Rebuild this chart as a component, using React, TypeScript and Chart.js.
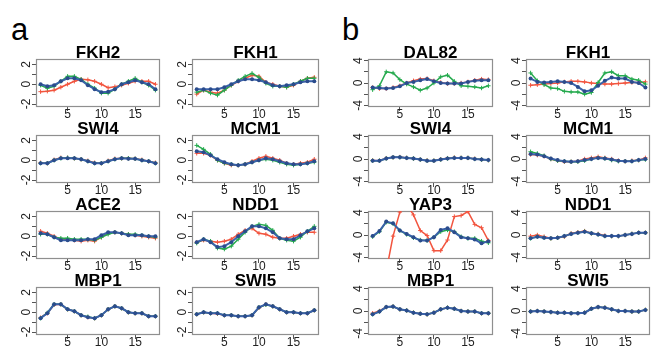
import React, { useEffect, useRef } from "react";
import { Chart, registerables } from "chart.js";
Chart.register(...registerables);

const FONT = "'Liberation Sans', Arial, Helvetica, sans-serif";

// ---------- shared axis data ----------
const xValues = [1, 2, 3, 4, 5, 6, 7, 8, 9, 10, 11, 12, 13, 14, 15, 16, 17, 18];
const xTicks = [5, 10, 15];
const xTickLabels = ["5", "10", "15"];
const yTicksA = [-2, -1, 0, 1, 2];
const yTickLabelsA = ["-2", "", "0", "", "2"];
const yTicksB = [-4, -2, 0, 2, 4];
const yTickLabelsB = ["-4", "", "0", "", "4"];

// ---------- panel a ----------
const aFKH2Red = [-0.75, -0.7, -0.6, -0.3, 0.0, 0.3, 0.5, 0.45, 0.3, 0.0, -0.35, -0.25, -0.1, 0.1, 0.3, 0.3, 0.3, 0.0];
const aFKH2Green = [-0.1, -0.4, -0.2, 0.3, 0.8, 0.8, 0.5, 0.0, -0.4, -0.9, -0.9, -0.5, 0.0, 0.3, 0.6, 0.2, -0.1, -0.6];
const aFKH2Blue = [0.0, -0.2, -0.1, 0.3, 0.6, 0.6, 0.4, -0.1, -0.5, -0.8, -0.75, -0.5, 0.0, 0.2, 0.4, 0.2, 0.0, -0.5];

const aFKH1Red = [-1.0, -0.6, -0.8, -0.9, -0.6, -0.1, 0.3, 0.6, 0.9, 0.8, 0.2, 0.0, -0.2, -0.3, -0.1, 0.3, 0.6, 0.7];
const aFKH1Green = [-0.8, -0.6, -0.9, -1.1, -0.6, -0.1, 0.4, 0.8, 1.1, 0.7, 0.1, -0.2, -0.2, -0.3, 0.0, 0.3, 0.6, 0.6];
const aFKH1Blue = [-0.5, -0.5, -0.5, -0.5, -0.3, 0.0, 0.3, 0.5, 0.5, 0.4, 0.2, -0.1, -0.2, -0.1, 0.0, 0.2, 0.3, 0.3];

const aSWI4Red = [-0.25, -0.3, 0.05, 0.25, 0.25, 0.2, 0.1, -0.05, -0.25, -0.3, -0.05, 0.15, 0.2, 0.2, 0.15, 0.05, -0.1, -0.25];
const aSWI4Green = [-0.3, -0.3, 0.0, 0.2, 0.25, 0.2, 0.1, -0.1, -0.3, -0.3, -0.1, 0.1, 0.2, 0.2, 0.15, 0.0, -0.1, -0.3];
const aSWI4Blue = [-0.3, -0.3, 0.0, 0.2, 0.2, 0.2, 0.1, -0.1, -0.3, -0.3, -0.1, 0.1, 0.2, 0.15, 0.15, 0.0, -0.1, -0.3];

const aMCM1Red = [0.7, 0.7, 0.5, 0.0, -0.3, -0.5, -0.5, -0.4, -0.1, 0.2, 0.4, 0.2, 0.0, -0.3, -0.4, -0.3, -0.2, 0.1];
const aMCM1Green = [1.5, 1.1, 0.6, 0.0, -0.3, -0.4, -0.5, -0.4, -0.2, 0.0, 0.1, 0.0, -0.2, -0.4, -0.5, -0.4, -0.3, -0.2];
const aMCM1Blue = [0.9, 0.8, 0.5, 0.1, -0.2, -0.4, -0.5, -0.4, -0.2, 0.0, 0.2, 0.1, -0.1, -0.3, -0.4, -0.4, -0.3, -0.1];

const aACE2Red = [0.5, 0.3, 0.0, -0.3, -0.3, -0.4, -0.5, -0.4, -0.5, -0.1, 0.3, 0.4, 0.3, 0.2, 0.1, 0.0, -0.1, -0.2];
const aACE2Green = [0.2, 0.2, -0.1, -0.2, -0.2, -0.3, -0.3, -0.3, -0.4, -0.1, 0.2, 0.4, 0.3, 0.2, 0.2, 0.1, 0.0, -0.1];
const aACE2Blue = [0.3, 0.2, -0.1, -0.4, -0.4, -0.4, -0.4, -0.3, -0.3, 0.1, 0.4, 0.4, 0.3, 0.1, 0.1, 0.1, 0.0, 0.0];

const aNDD1Red = [-0.6, -0.4, -0.5, -0.6, -0.5, -0.3, 0.2, 0.6, 0.8, 0.3, 0.2, -0.1, -0.2, -0.2, 0.0, 0.2, 0.4, 0.4];
const aNDD1Green = [-0.7, -0.3, -0.5, -1.2, -1.3, -1.0, -0.3, 0.4, 1.0, 1.2, 1.1, 0.6, -0.2, -0.4, -0.5, -0.1, 0.5, 1.0];
const aNDD1Blue = [-0.6, -0.3, -0.6, -1.1, -1.0, -0.6, 0.0, 0.5, 1.0, 1.0, 0.8, 0.4, -0.2, -0.3, -0.3, 0.1, 0.5, 0.8];

const aMBP1Red = [-0.55, -0.1, 0.75, 0.8, 0.3, 0.1, -0.3, -0.5, -0.6, -0.3, 0.3, 0.6, 0.4, 0.0, -0.1, -0.1, -0.4, -0.4];
const aMBP1Green = [-0.6, -0.05, 0.8, 0.8, 0.3, 0.1, -0.3, -0.45, -0.6, -0.3, 0.3, 0.6, 0.4, 0.0, -0.1, -0.1, -0.4, -0.4];
const aMBP1Blue = [-0.6, -0.1, 0.8, 0.8, 0.3, 0.1, -0.3, -0.5, -0.6, -0.3, 0.3, 0.6, 0.4, 0.0, -0.1, -0.1, -0.4, -0.4];

const aSWI5Red = [-0.2, 0.0, -0.1, -0.15, -0.3, -0.3, -0.4, -0.4, -0.3, 0.45, 0.8, 0.6, 0.3, 0.0, 0.0, -0.1, -0.1, 0.2];
const aSWI5Green = [-0.2, 0.0, -0.1, -0.1, -0.3, -0.3, -0.4, -0.4, -0.3, 0.5, 0.75, 0.6, 0.3, 0.0, 0.0, -0.1, -0.1, 0.2];
const aSWI5Blue = [-0.2, 0.0, -0.1, -0.1, -0.3, -0.3, -0.4, -0.4, -0.3, 0.5, 0.8, 0.6, 0.3, 0.0, 0.0, -0.1, -0.1, 0.2];

// ---------- panel b ----------
const bDAL82Red = [-0.8, -1.0, -1.0, -0.8, -0.5, 0.0, 0.4, 0.7, 0.8, 0.4, 0.1, -0.1, -0.1, 0.0, 0.2, 0.5, 0.7, 0.6];
const bDAL82Green = [-1.2, -0.5, 2.0, 1.8, 0.6, -0.2, -0.7, -1.3, -0.9, 0.0, 1.1, 1.4, 0.3, -0.5, -0.6, -0.7, -0.9, -0.5];
const bDAL82Blue = [-0.8, -0.9, -1.0, -0.9, -0.6, 0.0, 0.2, 0.5, 0.7, 0.3, 0.0, -0.1, -0.1, -0.1, 0.2, 0.4, 0.5, 0.5];

const bFKH1Red = [-0.4, -0.3, -0.2, -0.1, 0.0, 0.2, 0.3, 0.3, 0.2, 0.0, -0.1, -0.2, -0.2, -0.1, 0.0, 0.1, 0.1, 0.2];
const bFKH1Green = [1.8, 0.4, -0.3, -0.9, -1.0, -1.5, -1.6, -1.6, -2.0, -1.7, 0.1, 1.8, 2.0, 1.3, 1.3, 0.7, 0.5, -0.2];
const bFKH1Blue = [0.8, 0.2, 0.1, 0.2, 0.3, 0.2, 0.0, -0.7, -1.5, -1.3, -0.5, 0.4, 1.0, 0.8, 0.8, 0.2, 0.0, -0.8];

const bSWI4Red = [-0.25, -0.3, 0.15, 0.3, 0.35, 0.2, 0.1, -0.1, -0.25, -0.3, -0.05, 0.15, 0.25, 0.2, 0.2, 0.05, -0.1, -0.2];
const bSWI4Green = [-0.3, -0.3, 0.1, 0.3, 0.3, 0.2, 0.1, -0.1, -0.3, -0.3, -0.1, 0.1, 0.2, 0.2, 0.2, 0.0, -0.1, -0.2];
const bSWI4Blue = [-0.3, -0.3, 0.1, 0.3, 0.3, 0.2, 0.1, -0.1, -0.3, -0.3, -0.1, 0.1, 0.2, 0.2, 0.2, 0.0, -0.1, -0.2];

const bMCM1Red = [0.8, 0.7, 0.5, 0.0, -0.3, -0.5, -0.5, -0.4, 0.0, 0.2, 0.4, 0.2, 0.0, -0.3, -0.4, -0.3, -0.2, 0.2];
const bMCM1Green = [1.3, 1.0, 0.6, 0.0, -0.3, -0.4, -0.5, -0.5, -0.3, 0.0, 0.2, 0.1, -0.2, -0.4, -0.4, -0.4, -0.2, -0.1];
const bMCM1Blue = [0.9, 0.8, 0.5, 0.1, -0.2, -0.4, -0.5, -0.4, -0.2, 0.0, 0.2, 0.1, -0.1, -0.3, -0.4, -0.4, -0.2, 0.0];

const bYAP3Red = [-7.5, -8.0, -6.5, -0.2, 4.1, 5.5, 3.6, 0.8, -0.1, -2.8, -2.8, -0.9, 3.3, 3.5, 4.2, 1.9, 1.3, -1.0];
const bYAP3Green = [-0.3, 0.6, 2.3, 2.0, 0.8, 0.1, -0.5, -0.9, -1.0, -0.4, 0.6, 0.9, 0.6, -0.3, -0.6, -0.6, -1.1, -1.4];
const bYAP3Blue = [-0.2, 0.7, 2.4, 2.1, 0.8, 0.2, -0.4, -1.0, -1.0, -0.4, 0.9, 1.2, 0.5, -0.4, -0.6, -0.8, -1.5, -1.1];

const bNDD1Red = [-0.2, 0.0, -0.3, -0.6, -0.5, -0.3, 0.3, 0.5, 0.7, 0.3, 0.2, -0.1, -0.2, -0.2, 0.0, 0.2, 0.4, 0.4];
const bNDD1Green = [-0.6, -0.3, -0.5, -0.6, -0.5, -0.2, 0.2, 0.4, 0.6, 0.3, 0.1, -0.2, -0.2, -0.2, 0.0, 0.2, 0.4, 0.4];
const bNDD1Blue = [-0.6, -0.3, -0.5, -0.6, -0.5, -0.2, 0.2, 0.4, 0.6, 0.3, 0.1, -0.2, -0.2, -0.2, 0.0, 0.2, 0.4, 0.4];

const bMBP1Red = [-0.4, 0.0, 0.7, 0.8, 0.3, 0.1, -0.3, -0.5, -0.6, -0.3, 0.3, 0.6, 0.4, 0.0, -0.1, -0.1, -0.4, -0.4];
const bMBP1Green = [-0.6, -0.1, 0.7, 0.8, 0.3, 0.1, -0.3, -0.5, -0.6, -0.3, 0.3, 0.6, 0.4, 0.0, -0.1, -0.1, -0.4, -0.4];
const bMBP1Blue = [-0.6, -0.1, 0.7, 0.8, 0.3, 0.1, -0.3, -0.5, -0.6, -0.3, 0.3, 0.6, 0.4, 0.0, -0.1, -0.1, -0.4, -0.4];

const bSWI5Red = [-0.1, 0.0, -0.1, -0.2, -0.3, -0.3, -0.4, -0.4, -0.3, 0.4, 0.7, 0.6, 0.3, 0.0, 0.0, -0.1, -0.1, 0.2];
const bSWI5Green = [-0.1, 0.0, -0.1, -0.2, -0.3, -0.3, -0.4, -0.4, -0.3, 0.4, 0.7, 0.6, 0.3, 0.0, 0.0, -0.1, -0.1, 0.2];
const bSWI5Blue = [-0.1, 0.0, -0.1, -0.2, -0.3, -0.3, -0.4, -0.4, -0.3, 0.4, 0.7, 0.6, 0.3, 0.0, 0.0, -0.1, -0.1, 0.2];

// ---------- layout & styles ----------
const COLS = [
  { left: 36, width: 125 },
  { left: 192, width: 128 },
  { left: 368, width: 126 },
  { left: 526, width: 125 },
];
const ROWS = [59, 135, 211, 287];
const BOX_H = 48;
const PAD_LEFT = 30;
const PAD_RIGHT = 4;
const PAD_TOP = 20;
const PAD_BOTTOM = 18;

const RED = "#F2553F";
const GREEN = "#25AA4E";
const BLUE = "#3A62AA";
const BLUE_DOT = "#2B4C8C";

type PanelDef = {
  title: string;
  group: "a" | "b";
  col: number;
  row: number;
  red: number[];
  green: number[];
  blue: number[];
};

const PANELS: PanelDef[] = [
  { title: "FKH2", group: "a", col: 0, row: 0, red: aFKH2Red, green: aFKH2Green, blue: aFKH2Blue },
  { title: "FKH1", group: "a", col: 1, row: 0, red: aFKH1Red, green: aFKH1Green, blue: aFKH1Blue },
  { title: "SWI4", group: "a", col: 0, row: 1, red: aSWI4Red, green: aSWI4Green, blue: aSWI4Blue },
  { title: "MCM1", group: "a", col: 1, row: 1, red: aMCM1Red, green: aMCM1Green, blue: aMCM1Blue },
  { title: "ACE2", group: "a", col: 0, row: 2, red: aACE2Red, green: aACE2Green, blue: aACE2Blue },
  { title: "NDD1", group: "a", col: 1, row: 2, red: aNDD1Red, green: aNDD1Green, blue: aNDD1Blue },
  { title: "MBP1", group: "a", col: 0, row: 3, red: aMBP1Red, green: aMBP1Green, blue: aMBP1Blue },
  { title: "SWI5", group: "a", col: 1, row: 3, red: aSWI5Red, green: aSWI5Green, blue: aSWI5Blue },
  { title: "DAL82", group: "b", col: 2, row: 0, red: bDAL82Red, green: bDAL82Green, blue: bDAL82Blue },
  { title: "FKH1", group: "b", col: 3, row: 0, red: bFKH1Red, green: bFKH1Green, blue: bFKH1Blue },
  { title: "SWI4", group: "b", col: 2, row: 1, red: bSWI4Red, green: bSWI4Green, blue: bSWI4Blue },
  { title: "MCM1", group: "b", col: 3, row: 1, red: bMCM1Red, green: bMCM1Green, blue: bMCM1Blue },
  { title: "YAP3", group: "b", col: 2, row: 2, red: bYAP3Red, green: bYAP3Green, blue: bYAP3Blue },
  { title: "NDD1", group: "b", col: 3, row: 2, red: bNDD1Red, green: bNDD1Green, blue: bNDD1Blue },
  { title: "MBP1", group: "b", col: 2, row: 3, red: bMBP1Red, green: bMBP1Green, blue: bMBP1Blue },
  { title: "SWI5", group: "b", col: 3, row: 3, red: bSWI5Red, green: bSWI5Green, blue: bSWI5Blue },
];

const boxPlugin = {
  id: "rbox",
  beforeDatasetsDraw(chart: any) {
    const { ctx, chartArea: a } = chart;
    ctx.save();
    ctx.strokeStyle = "#8f8f8f";
    ctx.lineWidth = 1.2;
    ctx.strokeRect(Math.round(a.left) + 0.5, Math.round(a.top) + 0.5, Math.round(a.width) - 1, Math.round(a.height) - 1);
    ctx.restore();
  },
};

const toPoints = (ys: number[]) => xValues.map((x, i) => ({ x, y: ys[i] }));

function Panel({ p }: { p: PanelDef }) {
  const ref = useRef<HTMLCanvasElement>(null);
  const col = COLS[p.col];
  const w = col.width + PAD_LEFT + PAD_RIGHT;
  const h = BOX_H + PAD_TOP + PAD_BOTTOM;
  useEffect(() => {
    const isA = p.group === "a";
    const yTicks = isA ? yTicksA : yTicksB;
    const yLabels = isA ? yTickLabelsA : yTickLabelsB;
    const chart = new Chart(ref.current as HTMLCanvasElement, {
      type: "line",
      data: {
        datasets: [
          {
            data: toPoints(p.blue),
            borderColor: BLUE,
            backgroundColor: BLUE_DOT,
            borderWidth: 2,
            pointRadius: 2,
            pointStyle: "circle",
            pointBorderColor: BLUE_DOT,
            pointBorderWidth: 0,
            tension: 0,
          },
          {
            data: toPoints(p.green),
            borderColor: GREEN,
            backgroundColor: GREEN,
            borderWidth: 1.5,
            pointRadius: 2.2,
            pointStyle: "cross",
            pointBorderColor: GREEN,
            pointBorderWidth: 1,
            tension: 0,
          },
          {
            data: toPoints(p.red),
            borderColor: RED,
            backgroundColor: RED,
            borderWidth: 1.5,
            pointRadius: 2.2,
            pointStyle: "cross",
            pointBorderColor: RED,
            pointBorderWidth: 1,
            tension: 0,
          },
        ],
      } as any,
      options: {
        responsive: false,
        animation: false,
        devicePixelRatio: 1,
        layout: { padding: { top: 8, left: 0, right: PAD_RIGHT, bottom: 0 } },
        plugins: {
          legend: { display: false },
          tooltip: { enabled: false },
          title: {
            display: true,
            text: p.title,
            fullSize: false,
            color: "#000",
            font: { family: FONT, size: 17, weight: "bold", lineHeight: "12px" },
            padding: 0,
          },
        },
        scales: {
          x: {
            type: "linear",
            min: 0.32,
            max: 18.68,
            afterBuildTicks: (s: any) => {
              s.ticks = xTicks.map((v) => ({ value: v }));
            },
            afterFit: (s: any) => {
              s.height = PAD_BOTTOM;
            },
            grid: { drawOnChartArea: false, drawTicks: true, tickLength: 4, color: "#555" },
            border: { display: false },
            ticks: {
              color: "#222",
              font: { family: FONT, size: 12, lineHeight: 1 },
              padding: -2,
              autoSkip: false,
              maxRotation: 0,
              minRotation: 0,
              callback: (_v: any, i: number) => xTickLabels[i],
            },
          },
          y: {
            type: "linear",
            min: isA ? -2.3 : -4.3,
            max: isA ? 2.55 : 4.3,
            afterBuildTicks: (s: any) => {
              s.ticks = yTicks.map((v) => ({ value: v }));
            },
            afterFit: (s: any) => {
              s.width = PAD_LEFT;
            },
            grid: { drawOnChartArea: false, drawTicks: true, tickLength: 4, color: "#555" },
            border: { display: false },
            ticks: {
              color: "#222",
              font: { family: FONT, size: 12, lineHeight: 1 },
              padding: 0,
              autoSkip: false,
              minRotation: 90,
              maxRotation: 90,
              crossAlign: "center",
              callback: (_v: any, i: number) => yLabels[i],
            },
          },
        },
      } as any,
      plugins: [boxPlugin],
    });
    return () => chart.destroy();
  }, []);
  return (
    <canvas
      ref={ref}
      width={w}
      height={h}
      style={{
        position: "absolute",
        left: col.left - PAD_LEFT,
        top: ROWS[p.row] - PAD_TOP,
        width: w,
        height: h,
      }}
    />
  );
}

export default function App() {
  return (
    <div
      style={{
        position: "absolute",
        left: 0,
        top: 0,
        width: 661,
        height: 347,
        background: "#fff",
        overflow: "hidden",
        fontFamily: FONT,
      }}
    >
      <div style={{ position: "absolute", left: 11, top: 12, fontSize: 31, lineHeight: "normal", color: "#000" }}>a</div>
      <div style={{ position: "absolute", left: 342, top: 12, fontSize: 31, lineHeight: "normal", color: "#000" }}>b</div>
      {PANELS.map((p, i) => (
        <Panel key={i} p={p} />
      ))}
    </div>
  );
}
